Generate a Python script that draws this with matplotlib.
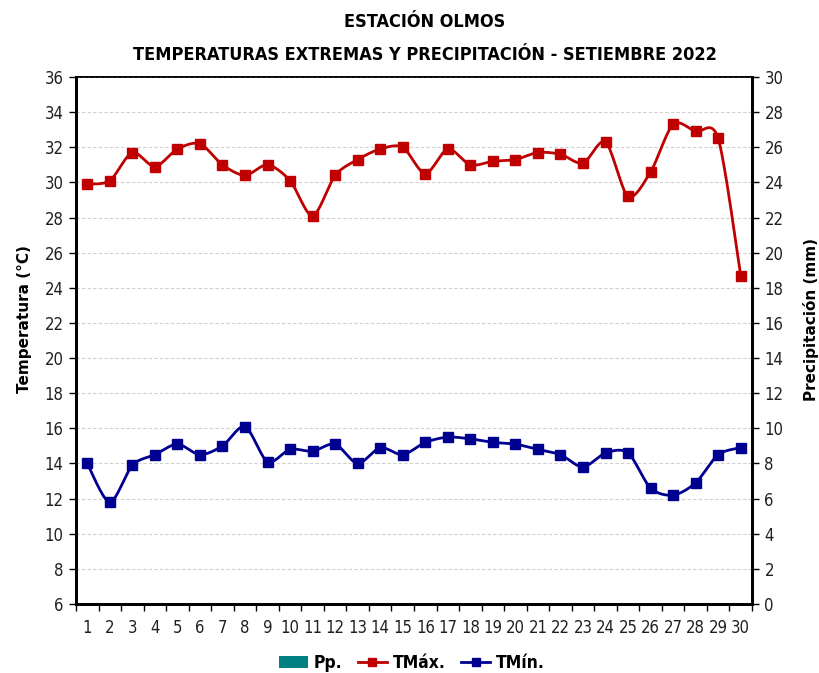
import numpy as np
import matplotlib
matplotlib.use("Agg")
import matplotlib.pyplot as plt
from matplotlib.patches import Patch
from matplotlib.lines import Line2D
from matplotlib import font_manager
from matplotlib.font_manager import FontProperties

days = list(range(1, 31))
tmax = [29.9, 30.1, 31.7, 30.9, 31.9, 32.2, 31.0, 30.4, 31.0, 30.1,
        28.1, 30.4, 31.3, 31.9, 32.0, 30.5, 31.9, 31.0, 31.2, 31.3,
        31.7, 31.6, 31.1, 32.3, 29.2, 30.6, 33.3, 32.9, 32.5, 24.7]
tmin = [14.0, 11.8, 13.9, 14.5, 15.1, 14.5, 15.0, 16.1, 14.1, 14.8,
        14.7, 15.1, 14.0, 14.9, 14.5, 15.2, 15.5, 15.4, 15.2, 15.1,
        14.8, 14.5, 13.8, 14.6, 14.6, 12.6, 12.2, 12.9, 14.5, 14.9]
pp = [0.0] * 30

title1 = "ESTACIÓN OLMOS"
title2 = "TEMPERATURAS EXTREMAS Y PRECIPITACIÓN - SETIEMBRE 2022"

# find a condensed font file if available
cond_file = None
cond_bold_file = None
for f in font_manager.fontManager.ttflist:
    fn = f.fname.lower()
    if "dejavusanscondensed.ttf" in fn:
        cond_file = f.fname
    if "dejavusanscondensed-bold.ttf" in fn:
        cond_bold_file = f.fname
    if "liberationsansnarrow-regular" in fn and cond_file is None:
        cond_file = f.fname
    if "liberationsansnarrow-bold.ttf" in fn and cond_bold_file is None:
        cond_bold_file = f.fname

if cond_file:
    fp_reg = FontProperties(fname=cond_file)
else:
    fp_reg = FontProperties(family="DejaVu Sans", stretch="condensed")
if cond_bold_file:
    fp_bold = FontProperties(fname=cond_bold_file)
else:
    fp_bold = FontProperties(family="DejaVu Sans", weight="bold", stretch="condensed")


def smooth(x, y, n=20, k=1 / 7.0):
    # Excel-like smoothed line drawn through the data points (drawing only)
    x = np.asarray(x, float)
    y = np.asarray(y, float)
    px = np.concatenate([[x[0]], x, [x[-1]]])
    py = np.concatenate([[y[0]], y, [y[-1]]])
    xs, ys = [], []
    for i in range(1, len(px) - 2):
        p0, p1, p2, p3 = (np.array([px[j], py[j]]) for j in (i - 1, i, i + 1, i + 2))
        c1 = p1 + (p2 - p0) * k
        c2 = p2 - (p3 - p1) * k
        t = np.linspace(0, 1, n, endpoint=(i == len(px) - 3))
        pts = ((1 - t) ** 3)[:, None] * p1 + (3 * (1 - t) ** 2 * t)[:, None] * c1 + \
              (3 * (1 - t) * t ** 2)[:, None] * c2 + (t ** 3)[:, None] * p2
        xs.append(pts[:, 0]); ys.append(pts[:, 1])
    return np.concatenate(xs), np.concatenate(ys)


fig = plt.figure(figsize=(8.2, 6.73), dpi=100)
ax = fig.add_axes([76 / 820, (673 - 604) / 673, (752 - 76) / 820, (604 - 77) / 673])
ax2 = ax.twinx()

red = "#C00000"
blue = "#000090"
teal = "#008080"

ax2.bar(days, pp, color=teal, width=0.6)
ax2.set_ylim(0, 30)
ax2.set_yticks(range(0, 31, 2))

ax.set_zorder(ax2.get_zorder() + 1)
ax.patch.set_visible(False)

sx, sy = smooth(days, tmax)
ax.plot(sx, sy, color=red, lw=2.0, zorder=3)
ax.plot(days, tmax, ls="none", marker="s", ms=6.5, color=red, zorder=4)
sx, sy = smooth(days, tmin)
ax.plot(sx, sy, color=blue, lw=2.0, zorder=3)
ax.plot(days, tmin, ls="none", marker="s", ms=6.5, color=blue, zorder=4)

ax.set_xlim(0.5, 30.5)
ax.set_ylim(6, 36)
ax.set_yticks(range(6, 37, 2))
ax.set_xticks(days)
ax.set_xticks(np.arange(0.5, 31, 1), minor=True)
ax.tick_params(axis="x", which="major", length=0, pad=11)
ax.tick_params(axis="x", which="minor", length=5, width=1, color="black", direction="out")
ax.tick_params(axis="y", length=5, width=1, pad=4)
ax2.tick_params(axis="y", length=5, width=1, pad=4)
for lab in ax.get_xticklabels() + ax.get_yticklabels() + ax2.get_yticklabels():
    lab.set_fontproperties(fp_reg)
    lab.set_fontsize(12)
    lab.set_color("#202020")

ax.grid(axis="y", color="#cfcfcf", ls=(0, (3, 2)), lw=0.8)
ax.set_axisbelow(True)

for a in (ax, ax2):
    a.spines["left"].set_linewidth(2.0)
    a.spines["right"].set_linewidth(2.0)
    a.spines["bottom"].set_linewidth(2.0)
    a.spines["top"].set_linewidth(1.2)

ax.set_ylabel("Temperatura (°C)", fontsize=11, fontweight="bold")
ax2.set_ylabel("Precipitación (mm)", fontsize=11, fontweight="bold", rotation=90)
ax.yaxis.set_label_coords(-0.076, 0.54)
ax2.yaxis.set_label_coords(1.087, 0.54)
ax2.yaxis.label.set_va("center")
ax.yaxis.label.set_va("center")

t1 = fig.text(0.518, 0.968, title1, ha="center", va="center")
t2 = fig.text(0.518, 0.918, title2, ha="center", va="center")
for t in (t1, t2):
    t.set_fontproperties(fp_bold)
    t.set_fontsize(13)

handles = [Patch(facecolor=teal, label="Pp."),
           Line2D([], [], color=red, lw=2, marker="s", ms=6, label="TMáx."),
           Line2D([], [], color=blue, lw=2, marker="s", ms=6, label="TMín.")]
legprop = fp_bold.copy()
legprop.set_size(12.5)
leg = fig.legend(handles=handles, loc="center", bbox_to_anchor=(0.502, 0.015),
                 ncol=3, frameon=False, prop=legprop,
                 handlelength=1.7, handletextpad=0.3, columnspacing=0.9)

fig.savefig("out.png", dpi=100)
